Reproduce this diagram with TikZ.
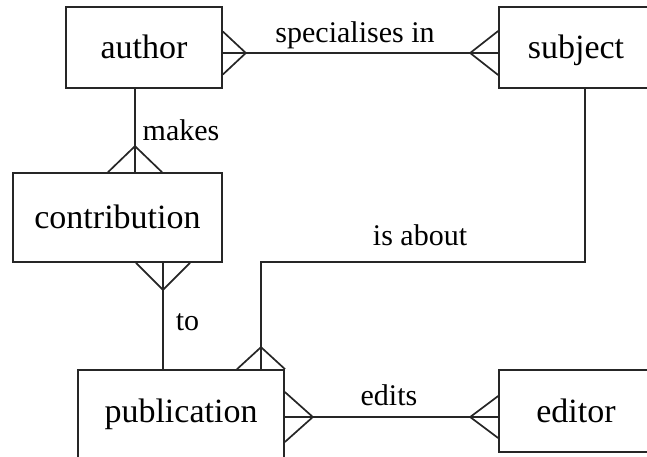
\documentclass[tikz,border=0pt]{standalone}
\usepackage{fontspec}
\setmainfont{Liberation Serif}
\usetikzlibrary{calc}
\definecolor{linec}{gray}{0.15}
\newcommand\crowfoot[5]{\draw[conn] ($(#1)+(#4,#5)$) -- ($(#1)+(#2,#3)$) -- ($(#1)-(#4,#5)$);}
\begin{document}
\begin{tikzpicture}[x=1pt,y=-1pt,
  ent/.style={draw=linec, line width=1.7pt, inner sep=0pt, text height=26pt, text depth=4pt, font=\fontsize{34}{38}\selectfont},
  lbl/.style={font=\fontsize{30}{34}\selectfont, inner sep=0pt, anchor=base},
  conn/.style={draw=linec, line width=1.7pt}]
\useasboundingbox (0,0) rectangle (647,456);
\clip (0,0) rectangle (647,456);
% entities
\node[ent, minimum width=156pt, minimum height=81pt] (author) at (144,47.5) {author};
\node[ent, minimum width=154pt, minimum height=81pt] (subject) at (576,47.5) {subject};
\node[ent, minimum width=209pt, minimum height=89pt] (contribution) at (117.5,217.5) {contribution};
\node[ent, minimum width=206pt, minimum height=94pt] (publication) at (181,417) {\raisebox{6pt}{publication}};
\node[ent, minimum width=154pt, minimum height=82pt] (editor) at (576,411) {editor};
% specialises in
\coordinate (as) at ([yshift=-5.5pt]author.east);
\coordinate (sw) at ([yshift=-5.5pt]subject.west);
\draw[conn] (as) -- (sw);
\crowfoot{as}{23}{0}{0}{21.5}
\crowfoot{sw}{-28}{0}{0}{22}
% makes
\coordinate (ab) at ([xshift=-9pt]author.south);
\coordinate (ct) at ([xshift=17.5pt]contribution.north);
\draw[conn] (ab) -- (ct);
\crowfoot{ct}{0}{-26}{27}{0}
% to
\coordinate (cb) at ([xshift=45.5pt]contribution.south);
\coordinate (pt) at ([xshift=-18pt]publication.north);
\draw[conn] (cb) -- (pt);
\crowfoot{cb}{0}{27}{27}{0}
% is about
\coordinate (sb) at ([xshift=9pt]subject.south);
\coordinate (pa) at ([xshift=80pt]publication.north);
\coordinate (mid) at (0,262);
\draw[conn] (sb) -- (sb |- mid) -- (pa |- mid) -- (pa);
\crowfoot{pa}{0}{-22}{24}{0}
% edits
\coordinate (ew) at ([yshift=-6pt]editor.west);
\coordinate (pe) at (publication.east |- ew);
\draw[conn] (pe) -- (ew);
\crowfoot{pe}{28}{0}{0}{25}
\crowfoot{ew}{-28}{0}{0}{21}
% labels
\node[lbl] (l1) at (355,42) {specialises in};
\node[lbl] (l2) at (181,140) {makes};
\node[lbl] (l3) at (187.5,330) {to};
\node[lbl] (l4) at (420,245) {is about};
\node[lbl] (l5) at (389,405) {edits};
\end{tikzpicture}
\end{document}
